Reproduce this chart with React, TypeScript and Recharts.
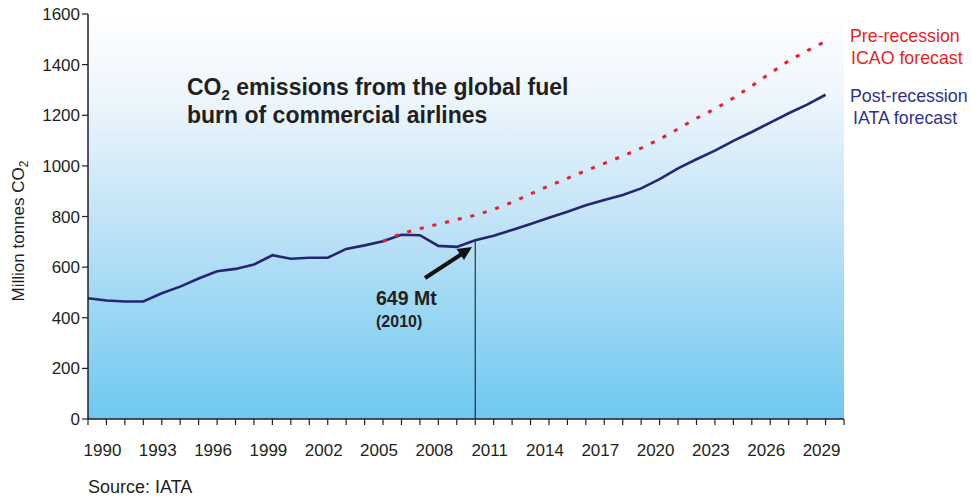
import React from "react";
import {
  LineChart,
  Line,
  XAxis,
  YAxis,
  ReferenceArea,
  ReferenceLine,
} from "recharts";

const years = [
  1989, 1990, 1991, 1992, 1993, 1994, 1995, 1996, 1997, 1998, 1999, 2000, 2001,
  2002, 2003, 2004, 2005, 2006, 2007, 2008, 2009, 2010, 2011, 2012, 2013, 2014,
  2015, 2016, 2017, 2018, 2019, 2020, 2021, 2022, 2023, 2024, 2025, 2026, 2027,
  2028, 2029,
];

const postRecession = [
  477, 468, 464, 464, 497, 523, 555, 584, 593, 610, 647, 633, 637, 637, 672,
  686, 702, 728, 726, 684, 680, 706, 724, 747, 770, 795, 819, 844, 865, 885,
  911, 948, 990, 1026, 1060, 1099, 1134, 1171, 1208, 1242, 1281,
];

const preRecessionYears = [
  2005, 2006, 2007, 2008, 2009, 2010, 2011, 2012, 2013, 2014, 2015, 2016, 2017,
  2018, 2019, 2020, 2021, 2022, 2023, 2024, 2025, 2026, 2027, 2028, 2029,
];
const preRecession = [
  702, 733, 752, 770, 788, 805, 828, 856, 889, 921, 951, 981, 1010, 1039, 1070,
  1105, 1146, 1188, 1225, 1268, 1316, 1366, 1415, 1455, 1492,
];

const yTicks = [0, 200, 400, 600, 800, 1000, 1200, 1400, 1600];
const xTickYears = Array.from({ length: 42 }, (_, i) => 1989 + i);
const xLabelYears = [1990, 1993, 1996, 1999, 2002, 2005, 2008, 2011, 2014, 2017, 2020, 2023, 2026, 2029];

const data = years.map((yr, i) => {
  const j = preRecessionYears.indexOf(yr);
  return {
    year: yr,
    post: postRecession[i],
    pre: j >= 0 ? preRecession[j] : null,
  };
});

const FONT = "'Liberation Sans', Arial, Helvetica, sans-serif";
const AXIS = "#231F20";

const XTick = (props: any) => {
  const { x, y, payload } = props;
  if (!xLabelYears.includes(payload.value)) return <g />;
  return (
    <text x={x - 4} y={y} dy={29} textAnchor="middle" fontSize={17} fill={AXIS} fontFamily={FONT}>
      {payload.value}
    </text>
  );
};

const Overlay = () => (
  <svg
    width={972}
    height={497}
    style={{ position: "absolute", left: 0, top: 0, pointerEvents: "none" }}
  >
    <g fontFamily={FONT}>
      <text x={187} y={95} fontSize={23} fontWeight="bold" fill="#231F20">
        CO<tspan fontSize={15} dy={5}>2</tspan>
        <tspan dy={-5}> emissions from the global fuel</tspan>
      </text>
      <text x={187} y={123} fontSize={23} fontWeight="bold" fill="#231F20">
        burn of commercial airlines
      </text>

      <text x={376} y={305} fontSize={19.5} fontWeight="bold" fill="#231F20">
        649 Mt
      </text>
      <text x={376} y={327} fontSize={16} fontWeight="bold" fill="#231F20">
        (2010)
      </text>
      <line x1={425} y1={278} x2={461} y2={254.5} stroke="#111" strokeWidth={4} />
      <polygon points="472,247 464,260 456.5,249" fill="#111" />

      <text x={850} y={42} fontSize={17.8} fill="#ED1C24">Pre-recession</text>
      <text x={851} y={64} fontSize={17.8} fill="#ED1C24">ICAO forecast</text>
      <text x={850} y={102} fontSize={17.8} fill="#2E3192">Post-recession</text>
      <text x={853} y={124} fontSize={17.8} fill="#2E3192">IATA forecast</text>

      <text
        x={24}
        y={231}
        fontSize={17}
        fill={AXIS}
        textAnchor="middle"
        transform="rotate(-90 24 231)"
      >
        Million tonnes CO<tspan fontSize={12} dy={4}>2</tspan>
      </text>

      <text x={88} y={493} fontSize={18} fill={AXIS}>
        Source: IATA
      </text>
    </g>
  </svg>
);

export default function App() {
  return (
    <div style={{ position: "absolute", left: 0, top: 0, width: 972, height: 497, background: "#fff" }}>
      <LineChart
        width={972}
        height={497}
        data={data}
        margin={{ top: 14, right: 128, bottom: 48, left: 0 }}
      >
        <defs>
          <linearGradient id="bgGrad" x1="0" y1="0" x2="0" y2="1">
            <stop offset="0%" stopColor="#FFFFFF" />
            <stop offset="20%" stopColor="#EEF6FC" />
            <stop offset="50%" stopColor="#C3E4F7" />
            <stop offset="100%" stopColor="#6EC8F1" />
          </linearGradient>
        </defs>
        <ReferenceArea
          x1={1989}
          x2={2030}
          y1={0}
          y2={1600}
          fill="url(#bgGrad)"
          fillOpacity={1}
          stroke="none"
        />
        <XAxis
          dataKey="year"
          type="number"
          domain={[1989, 2030]}
          ticks={xTickYears}
          interval={0}
          height={30}
          tickSize={6}
          tickMargin={2}
          tick={<XTick />}
          axisLine={{ stroke: AXIS, strokeWidth: 1.5 }}
          tickLine={{ stroke: AXIS, strokeWidth: 1.2 }}
        />
        <YAxis
          type="number"
          domain={[0, 1600]}
          ticks={yTicks}
          width={88}
          interval={0}
          tickSize={6}
          tickMargin={2}
          tick={{ fontSize: 17, fill: AXIS, fontFamily: FONT }}
          axisLine={{ stroke: AXIS, strokeWidth: 1.5 }}
          tickLine={{ stroke: AXIS, strokeWidth: 1.2 }}
        />
        <ReferenceLine
          segment={[
            { x: 2010, y: 0 },
            { x: 2010, y: 706 },
          ]}
          stroke="#111"
          strokeWidth={1}
        />
        <Line
          type="linear"
          dataKey="post"
          stroke="#262573"
          strokeWidth={2.6}
          dot={false}
          isAnimationActive={false}
        />
        <Line
          type="linear"
          dataKey="pre"
          stroke="#ED1C24"
          strokeWidth={3}
          strokeDasharray="4 9"
          dot={false}
          connectNulls={false}
          isAnimationActive={false}
        />
      </LineChart>
      <Overlay />
    </div>
  );
}
